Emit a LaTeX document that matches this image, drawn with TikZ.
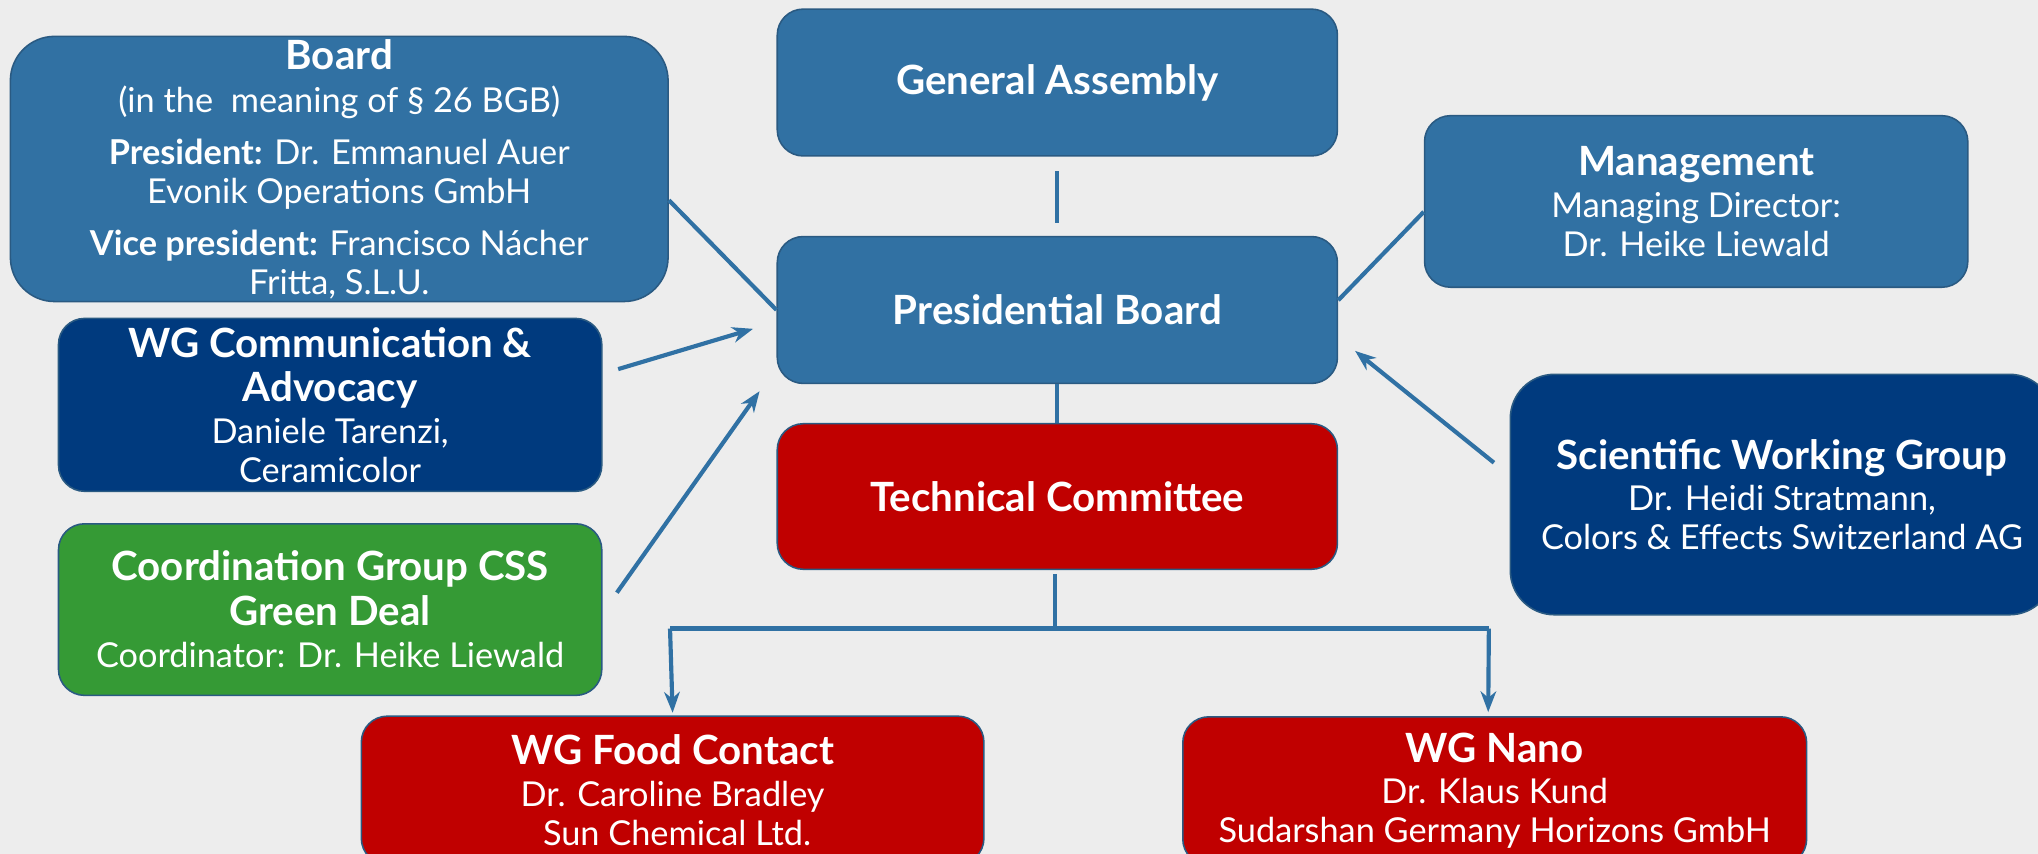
\documentclass[tikz,border=0pt]{standalone}
\usepackage{fontspec}
\setmainfont{Lato}
\usetikzlibrary{arrows.meta,calc}
\definecolor{bgc}{HTML}{EDEDED}
\definecolor{midblue}{HTML}{3171A3}
\definecolor{darkblue}{HTML}{003A7E}
\definecolor{redc}{HTML}{C00000}
\definecolor{greenc}{HTML}{359A35}
\definecolor{bordc}{HTML}{2A5A82}
\definecolor{connc}{HTML}{3071A4}
\begin{document}
\begin{tikzpicture}[x=0.5pt,y=-0.5pt,
  box/.style={draw=bordc, line width=0.6pt, rounded corners=10pt, align=center,
    text=white, font=\fontsize{13.2}{15}\selectfont, inner sep=0pt},
  bigbox/.style={box, rounded corners=17pt},
  conn/.style={draw=connc, line width=1.6pt},
  arr/.style={conn, -{Stealth[length=8pt,width=6pt,inset=2.5pt]}}]
\useasboundingbox (0,0) rectangle (1568,657);
\clip (0,0) rectangle (1568,657);
\fill[bgc] (0,0) rectangle (1568,657);
\newcommand{\ttlf}{\bfseries\fontsize{15.5}{17}\selectfont}

\node[bigbox, fill=midblue, minimum width=253pt, minimum height=102pt] (board) at (261,130)
 {{\ttlf Board}\\[1.5pt] (in the\ \ meaning of § 26 BGB)\\[5pt]
  \textbf{President:} Dr. Emmanuel Auer\\ Evonik Operations GmbH\\[5pt]
  \textbf{Vice president:} Francisco Nácher\\ Fritta, S.L.U.};

\node[box, fill=midblue, minimum width=215.5pt, minimum height=56.5pt] (ga) at (813.5,63.5)
 {\ttlf General Assembly};
\node[box, fill=midblue, minimum width=215.5pt, minimum height=56.5pt] (pb) at (813.5,238.5)
 {\ttlf Presidential Board};
\node[box, fill=redc, minimum width=215.5pt, minimum height=56pt] (tc) at (813.5,382)
 {\ttlf Technical Committee};

\node[box, fill=midblue, minimum width=209pt, minimum height=66pt] (mgmt) at (1305,155)
 {{\ttlf Management}\\[1pt] Managing Director:\\ Dr. Heike Liewald};

\node[bigbox, fill=darkblue, minimum width=209pt, minimum height=92.5pt] (swg) at (1371,380.5)
 {{\ttlf Scientific Working Group}\\[1pt] Dr. Heidi Stratmann,\\ Colors \& Effects Switzerland AG};

\node[box, fill=darkblue, minimum width=209pt, minimum height=66.5pt] (comm) at (254,311.5)
 {{\ttlf WG Communication \&}\\[2pt] {\ttlf Advocacy}\\[1pt] Daniele Tarenzi,\\ Ceramicolor};

\node[box, fill=greenc, minimum width=209pt, minimum height=66pt] (coord) at (254,469)
 {{\ttlf Coordination Group CSS}\\[2pt] {\ttlf Green Deal}\\[1.5pt] Coordinator: Dr. Heike Liewald};

\node[box, fill=redc, minimum width=239.5pt, minimum height=57pt] (food) at (517.5,608)
 {{\ttlf WG Food Contact}\\[1pt] Dr. Caroline Bradley\\ \ Sun Chemical Ltd.};

\node[box, fill=redc, minimum width=240pt, minimum height=57pt] (nano) at (1150,608.5)
 {{\ttlf WG Nano}\\[1pt] Dr. Klaus Kund\\ Sudarshan Germany Horizons GmbH};

% connectors
\draw[conn] ($(ga.south)+(0,11)$) -- ($(pb.north)+(0,-10)$);
\draw[conn] (pb.south) -- (tc.north);
\draw[conn] ($(board.east)+(0,24)$) -- (pb.west);
\draw[conn] ($(mgmt.west)+(0,8)$) -- ($(pb.east)+(0,-7.5)$);
\draw[arr] ($(comm.east)+(12,-27.5)$) -- ($(pb.west)+(-18,14.5)$);
\draw[arr] ($(coord.east)+(11,-13)$) -- ($(pb.west)+(-13,62.5)$);
\draw[arr] ($(swg.west)+(-12,-24.5)$) -- ($(pb.east)+(13,31.5)$);

\coordinate (tcb) at ($(tc.south)+(-2,3)$);
\coordinate (jn) at ($(tcb)+(0,42)$);
\coordinate (hl) at ($(jn)+(-296,0)$);
\coordinate (hr) at ($(jn)+(334,0)$);
\draw[conn] (tcb) -- (jn);
\draw[conn] (hl) -- (hr);
\draw[arr] (hl) -- ($(food.north)+(0,-2)$);
\draw[arr] (hr) -- ($(nano.north)+(-5,-3)$);
\end{tikzpicture}
\end{document}
